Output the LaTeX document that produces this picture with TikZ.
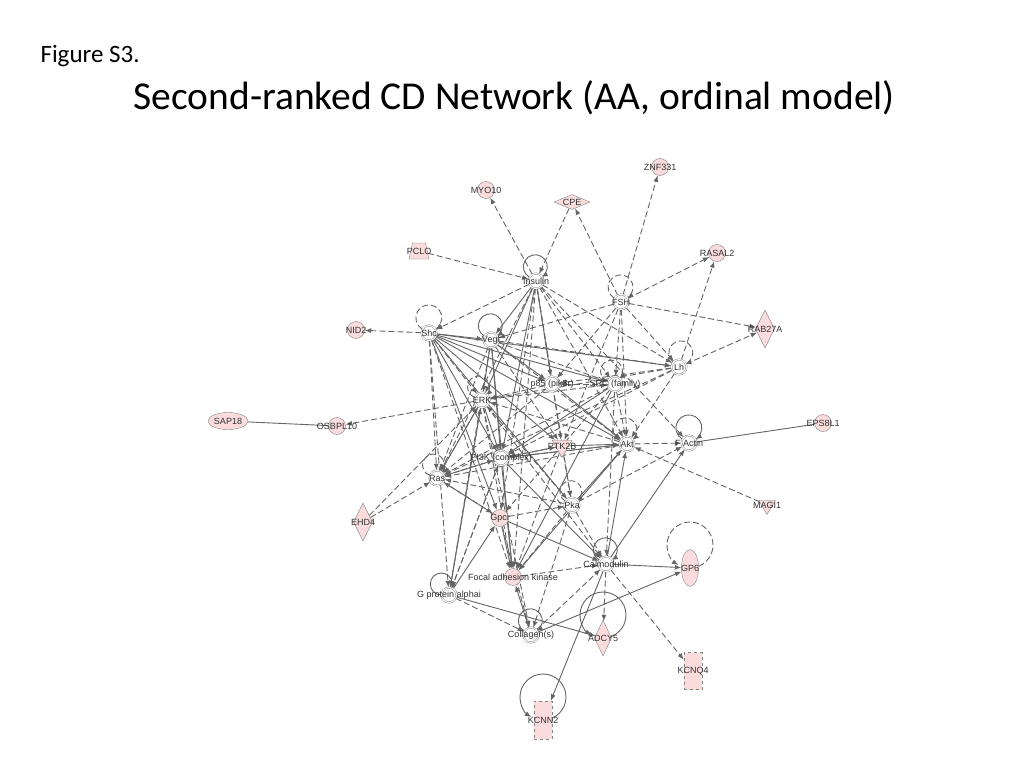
\documentclass[tikz,border=0pt]{standalone}
\usepackage{fontspec}
\setmainfont{Carlito}
\newfontfamily\lblfont{Liberation Sans}
\usetikzlibrary{shapes.geometric, arrows.meta}
\usetikzlibrary{positioning}
\pgfdeclarelayer{background}
\pgfsetlayers{background,main}
\definecolor{edgegray}{RGB}{100,100,100}
\definecolor{nodegray}{RGB}{130,130,130}
\definecolor{genepink}{RGB}{250,220,220}
\definecolor{lblgray}{RGB}{50,50,50}
\tikzstyle{arrow} = [->, >={Latex[length=6.5pt, width=5pt]}, draw=edgegray, line width=0.9pt]
\tikzstyle{dasharrow} = [arrow, dash pattern=on 6pt off 3pt]
\tikzstyle{link} = [draw=edgegray, line width=0.9pt]
\tikzstyle{lbl} = [font=\lblfont\fontsize{9}{11}\selectfont, text=lblgray, inner sep=0pt]
\tikzstyle{group} = [circle, minimum size=15pt, inner sep=0pt, draw=nodegray, double=white, double distance=1pt, fill=white]
\tikzstyle{gene} = [circle, minimum size=17pt, inner sep=0pt, draw=nodegray, fill=genepink]
\tikzstyle{enzyme} = [diamond, minimum width=19pt, minimum height=38pt, inner sep=0pt, draw=nodegray, fill=genepink]
\tikzstyle{peptidase} = [diamond, minimum width=36pt, minimum height=15pt, inner sep=0pt, draw=nodegray, fill=genepink]
\tikzstyle{kinase} = [regular polygon, regular polygon sides=3, shape border rotate=180, minimum size=23pt, inner sep=0pt, draw=nodegray, fill=genepink]
\tikzstyle{transporter} = [trapezium, trapezium left angle=75, trapezium right angle=75, trapezium stretches=true, minimum width=20pt, minimum height=16pt, inner sep=1pt, draw=nodegray, fill=genepink]
\tikzstyle{channel} = [rectangle, minimum width=18pt, minimum height=37pt, inner sep=0pt, draw=nodegray, dashed, fill=genepink]
\tikzstyle{regulator} = [ellipse, minimum width=40pt, minimum height=17pt, inner sep=0pt, draw=nodegray, fill=genepink]
\tikzstyle{receptor} = [ellipse, minimum width=17pt, minimum height=37pt, inner sep=0pt, draw=nodegray, fill=genepink]

\begin{document}
\begin{tikzpicture}[x=1pt, y=-1pt]
            \useasboundingbox (0,0) rectangle (1024,768);

            \node (FIG) [anchor=base west, font=\fontsize{25}{30}\selectfont] at (37,63) {Figure S3.};
            \node (TITLE) [anchor=base west, font=\fontsize{39.5}{46}\selectfont] at (130,109) {Second-ranked CD Network (AA, ordinal model)};

            \node (ZNF331) [gene, label={[lbl]center:ZNF331}] at (660,167) {};
            \node (MYO10) [gene, label={[lbl]center:MYO10}] at (486,190) {};
            \node (CPE) [peptidase, label={[lbl]center:CPE}] at (572,202) {};
            \node (PCLO) [transporter, label={[lbl]center:PCLO}] at (419,251) {};
            \node (RASAL2) [gene, label={[lbl]center:RASAL2}] at (717,253) {};
            \node (INSULIN) [group, label={[lbl]center:Insulin}] at (536,281) {};
            \node (FSH) [group, label={[lbl]center:FSH}] at (621,302) {};
            \node (SHC) [group, label={[lbl]center:Shc}] at (429,333) {};
            \node (NID2) [gene, label={[lbl]center:NID2}] at (356,330) {};
            \node (RAB27A) [enzyme, label={[lbl]center:RAB27A}] at (765,329) {};
            \node (VEGF) [group, label={[lbl]center:Vegf}] at (491,340) {};
            \node (LH) [group, label={[lbl]center:Lh}] at (679,367) {};
            \node (P85) [group, label={[lbl]center:p85 (pik3r)}] at (552,384) {};
            \node (SRC) [group, label={[lbl]center:SRC (family)}] at (615,384) {};
            \node (ERK) [group, label={[lbl]center:ERK}] at (482,400) {};
            \node (SAP18) [regulator, label={[lbl]center:SAP18}] at (228,421) {};
            \node (OSBPL10) [gene, label={[lbl]center:OSBPL10}] at (337,426) {};
            \node (EPS8L1) [gene, label={[lbl]center:EPS8L1}] at (823,423) {};
            \node (PTK2B) [kinase, label={[lbl]center:PTK2B}] at (562,446) {};
            \node (AKT) [group, label={[lbl]center:Akt}] at (627,444) {};
            \node (FACTIN) [group, label={[lbl]center:F Actin}] at (689,443) {};
            \node (PI3K) [group, label={[lbl]center:PI3K (complex)}] at (501,458) {};
            \node (RAS) [group, label={[lbl]center:Ras}] at (437,478) {};
            \node (MAGI1) [kinase, minimum size=19pt, label={[lbl]center:MAGI1}] at (767,505) {};
            \node (EHD4) [enzyme, label={[lbl]center:EHD4}] at (363,522) {};
            \node (PKA) [group, label={[lbl]center:Pka}] at (572,505) {};
            \node (GPCR) [gene, label={[lbl]center:Gpcr}] at (500,518) {};
            \node (GP6) [receptor, label={[lbl]center:GP6}] at (690,568) {};
            \node (CALM) [group, label={[lbl]center:Calmodulin}] at (606,564) {};
            \node (FAK) [gene, label={[lbl]center:Focal adhesion kinase}] at (513,577) {};
            \node (GPA) [group, label={[lbl]center:G protein alphai}] at (449,595) {};
            \node (COLL) [group, label={[lbl]center:Collagen(s)}] at (531,635) {};
            \node (ADCY5) [enzyme, minimum width=17pt, minimum height=36pt, label={[lbl]center:ADCY5}] at (603,638) {};
            \node (KCNQ4) [channel, label={[lbl]center:KCNQ4}] at (693,671) {};
            \node (KCNN2) [channel, minimum height=38pt, label={[lbl]center:KCNN2}] at (543,720) {};

            \begin{pgfonlayer}{background}
            % self loops
            \draw [arrow] (INSULIN.150) arc[start angle=240, end angle=-60, radius=12pt];
            \draw [dasharrow] (FSH.150) arc[start angle=240, end angle=-60, radius=12.5pt];
            \draw [dasharrow] (SHC.150) arc[start angle=240, end angle=-60, radius=13pt];
            \draw [arrow] (VEGF.150) arc[start angle=240, end angle=-60, radius=12pt];
            \draw [dasharrow] (LH.140) arc[start angle=230, end angle=-70, radius=12pt];
            \draw [dasharrow] (SRC.160) arc[start angle=250, end angle=-50, radius=11pt];
            \draw [dasharrow] (AKT.155) arc[start angle=245, end angle=-55, radius=12pt];
            \draw [arrow] (FACTIN.150) arc[start angle=240, end angle=-60, radius=13pt];
            \draw [dasharrow] (ERK.160) arc[start angle=250, end angle=-50, radius=11pt];
            \draw [dasharrow] (RAS.160) arc[start angle=250, end angle=-50, radius=11pt];
            \draw [dasharrow] (PKA.150) arc[start angle=240, end angle=-60, radius=11pt];
            \draw [arrow] (CALM.150) arc[start angle=240, end angle=-60, radius=12pt];
            \draw [arrow] (GPA.180) arc[start angle=270, end angle=-30, radius=11pt];
            \draw [arrow] (COLL.150) arc[start angle=240, end angle=-60, radius=12pt];
            \draw [dasharrow] (GP6.center) arc[start angle=-90, end angle=240, radius=23pt];
            \draw [arrow] (ADCY5.center) arc[start angle=-90, end angle=240, radius=23pt];
            \draw [arrow] (KCNN2.center) arc[start angle=-90, end angle=240, radius=23pt];

            % dashed relations
            \draw [dasharrow] (INSULIN) -- (MYO10);
            \draw [dasharrow] (CPE) -- (INSULIN);
            \draw [dasharrow] (FSH) -- (CPE);
            \draw [dasharrow] (PCLO) -- (INSULIN);
            \draw [dasharrow] (INSULIN) -- (SHC);
            \draw [dasharrow] (FSH) -- (ZNF331);
            \draw [dasharrow] (FSH) -- (RASAL2);
            \draw [dasharrow] (LH) -- (RASAL2);
            \draw [dasharrow] (FSH) -- (RAB27A);
            \draw [dasharrow] (LH) -- (RAB27A);
            \draw [dasharrow] (SHC) -- (NID2);
            \draw [dasharrow] (ERK) -- (OSBPL10);
            \draw [dasharrow] (EHD4) -- (RAS);
            \draw [dasharrow] (EHD4) -- (ERK);
            \draw [dasharrow] (AKT) -- (FACTIN);
            \draw [dasharrow] (MAGI1) -- (AKT);
            \draw [dasharrow] (CALM) -- (KCNQ4);
            \draw [dasharrow] (CALM) -- (ADCY5);
            \draw [dasharrow] (GPA) -- (COLL);
            \draw [dasharrow] (FSH) -- (VEGF);
            \draw [dasharrow] (FSH) -- (P85);
            \draw [dasharrow] (FSH) -- (LH);
            \draw [dasharrow] (FSH) -- (AKT);
            \draw [dasharrow] (FSH) -- (SRC);
            \draw [dasharrow] (FSH) -- (PTK2B);
            \draw [dasharrow] (INSULIN) -- (SRC);
            \draw [dasharrow] (INSULIN) -- (AKT);
            \draw [dasharrow] (INSULIN) -- (LH);
            \draw [dasharrow] (INSULIN) -- (PTK2B);
            \draw [dasharrow] (INSULIN) -- (FACTIN);
            \draw [dasharrow] (INSULIN) -- (RAS);
            \draw [dasharrow] (INSULIN) -- (GPCR);
            \draw [dasharrow] (INSULIN) -- (FAK);
            \draw [dasharrow] (INSULIN) -- (PKA);
            \draw [dasharrow] (SHC) -- (RAS);
            \draw [dasharrow] (SHC) -- (GPA);
            \draw [dasharrow] (SHC) -- (FAK);
            \draw [dasharrow] (SHC) -- (ERK);
            \draw [dasharrow] (VEGF) -- (LH);
            \draw [dasharrow] (VEGF) -- (AKT);
            \draw [dasharrow] (VEGF) -- (RAS);
            \draw [dasharrow] (VEGF) -- (GPA);
            \draw [dasharrow] (VEGF) -- (SRC);
            \draw [dasharrow] (VEGF) -- (PTK2B);
            \draw [dasharrow] (ERK) -- (SRC);
            \draw [dasharrow] (ERK) -- (RAS);
            \draw [dasharrow] (ERK) -- (GPA);
            \draw [dasharrow] (ERK) -- (COLL);
            \draw [dasharrow] (ERK) -- (FAK);
            \draw [dasharrow] (ERK) -- (CALM);
            \draw [dasharrow] (LH) -- (P85);
            \draw [dasharrow] (LH) -- (AKT);
            \draw [dasharrow] (LH) -- (PI3K);
            \draw [dasharrow] (LH) -- (ERK);
            \draw [dasharrow] (LH) -- (RAS);
            \draw [dasharrow] (SRC) -- (P85);
            \draw [dasharrow] (SRC) -- (AKT);
            \draw [dasharrow] (SRC) -- (RAS);
            \draw [dasharrow] (SRC) -- (CALM);
            \draw [dasharrow] (SRC) -- (GPCR);
            \draw [dasharrow] (P85) -- (ERK);
            \draw [dasharrow] (P85) -- (RAS);
            \draw [dasharrow] (AKT) -- (PI3K);
            \draw [dasharrow] (AKT) -- (ERK);
            \draw [dasharrow] (AKT) -- (RAS);
            \draw [dasharrow] (PTK2B) -- (PI3K);
            \draw [dasharrow] (PTK2B) -- (PKA);
            \draw [dasharrow] (PTK2B) -- (FAK);
            \draw [dasharrow] (PI3K) -- (GPA);
            \draw [dasharrow] (PI3K) -- (RAS);
            \draw [dasharrow] (PKA) -- (FACTIN);
            \draw [dasharrow] (PKA) -- (RAS);
            \draw [dasharrow] (PKA) -- (COLL);
            \draw [dasharrow] (PKA) -- (CALM);
            \draw [dasharrow] (PKA) -- (ERK);
            \draw [dasharrow] (PKA) -- (FAK);
            \draw [dasharrow] (GPCR) -- (RAS);
            \draw [dasharrow] (GPCR) -- (COLL);
            \draw [dasharrow] (GPCR) -- (PKA);
            \draw [dasharrow] (COLL) -- (CALM);
            \draw [dasharrow] (GPA) -- (ERK);
            \draw [dasharrow] (GPA) -- (PI3K);
            \draw [dasharrow] (FAK) -- (CALM);

            % solid relations
            \draw [arrow] (CALM) -- (GP6);
            \draw [arrow] (COLL) -- (GP6);
            \draw [arrow] (CALM) -- (KCNN2);
            \draw [arrow] (GPA) -- (ADCY5);
            \draw [arrow] (SHC) -- (VEGF);
            \draw [arrow] (SHC) -- (P85);
            \draw [arrow] (SHC) -- (SRC);
            \draw [arrow] (SHC) -- (AKT);
            \draw [arrow] (SHC) -- (PTK2B);
            \draw [arrow] (SHC) -- (PI3K);
            \draw [arrow] (SHC) -- (GPCR);
            \draw [arrow] (SHC) -- (PKA);
            \draw [arrow] (SHC) -- (LH);
            \draw [arrow] (INSULIN) -- (P85);
            \draw [arrow] (INSULIN) -- (PI3K);
            \draw [arrow] (INSULIN) -- (ERK);
            \draw [arrow] (INSULIN) -- (VEGF);
            \draw [arrow] (VEGF) -- (P85);
            \draw [arrow] (VEGF) -- (ERK);
            \draw [arrow] (VEGF) -- (PI3K);
            \draw [arrow] (VEGF) -- (FAK);
            \draw [arrow] (PI3K) -- (AKT);
            \draw [arrow] (PI3K) -- (PTK2B);
            \draw [arrow] (RAS) -- (PI3K);
            \draw [arrow] (RAS) -- (ERK);
            \draw [arrow] (RAS) -- (GPCR);
            \draw [arrow] (SRC) -- (PI3K);
            \draw [arrow] (SRC) -- (FAK);
            \draw [arrow] (GPCR) -- (FAK);
            \draw [arrow] (PI3K) -- (FAK);
            \draw [arrow] (COLL) -- (FAK);
            \draw [arrow] (CALM) -- (AKT);
            \draw [arrow] (CALM) -- (FACTIN);
            \draw [arrow] (GPCR) -- (CALM);
            \draw [arrow] (PI3K) -- (CALM);
            \draw [arrow] (GPA) -- (GPCR);
            \draw [arrow] (ERK) -- (PI3K);
            \draw [arrow] (PTK2B) -- (AKT);
            \draw [arrow] (P85) -- (AKT);
            \draw [arrow] (AKT) -- (FAK);
            \draw [arrow] (PKA) -- (AKT);

            % plain links
            \draw [link] (SAP18) -- (OSBPL10);
            \draw [link] (FACTIN) -- (EPS8L1);
            \end{pgfonlayer}

\end{tikzpicture}
\end{document}
